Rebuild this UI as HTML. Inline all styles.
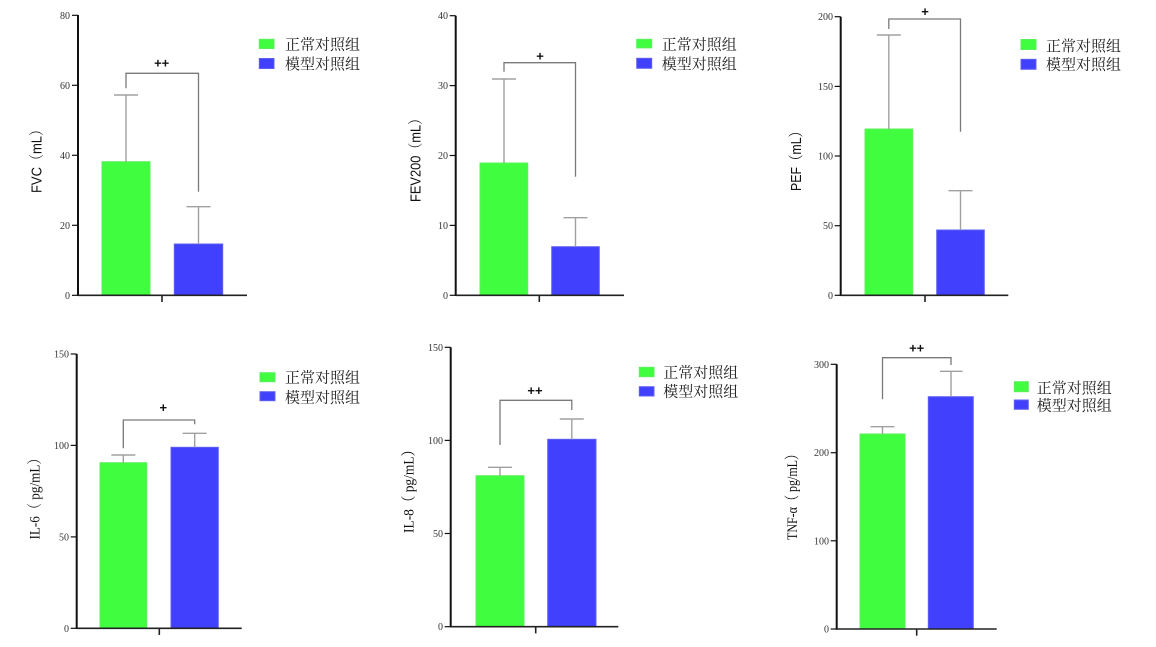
<!DOCTYPE html>
<html><head><meta charset="utf-8"><style>
html,body{margin:0;padding:0;background:#fff;}
svg{display:block;}
.tk{font-family:"Liberation Serif",serif;font-size:10px;fill:#333;}
.lg{font-family:"Liberation Serif","Noto Serif CJK SC",serif;font-size:15px;fill:#222;}
.sig{font-family:"Liberation Sans",sans-serif;font-size:13px;font-weight:bold;fill:#111;}
.yl{font-family:"Liberation Sans","Noto Serif CJK SC",sans-serif;font-size:15px;fill:#111;}
.yls{font-family:"Liberation Serif","Noto Serif CJK SC",serif;font-size:15px;fill:#111;}
.ax{stroke:#111;stroke-width:2;fill:none;}
.xa{stroke:#222;stroke-width:1.6;fill:none;}
.er{stroke:#a0a0a0;stroke-width:1.4;fill:none;}
.br{stroke:#7a7a7a;stroke-width:1.3;fill:none;}
.g{fill:#40fd40;stroke:#5cf05c;stroke-width:1;}
.b{fill:#4040fd;stroke:#6060f0;stroke-width:1;}
</style></head><body>
<svg width="1156" height="647" viewBox="0 0 1156 647" xmlns="http://www.w3.org/2000/svg">

<!-- ============ Panel 1: FVC ============ -->
<g>
<rect class="g" x="102" y="161.7" width="48" height="133.6"/>
<rect class="b" x="174.3" y="244" width="48.4" height="51.3"/>
<line class="er" x1="126" y1="161.7" x2="126" y2="95"/><line class="er" x1="114" y1="95" x2="138" y2="95"/>
<line class="er" x1="198.5" y1="244" x2="198.5" y2="206.7"/><line class="er" x1="186.5" y1="206.7" x2="210.5" y2="206.7"/>
<polyline class="br" points="126,88.3 126,73.3 198.5,73.3 198.5,191.7"/>
<text class="sig" x="161.7" y="67.5" text-anchor="middle">++</text>
<line class="ax" x1="78" y1="15" x2="78" y2="296"/>
<line class="xa" x1="78" y1="295.3" x2="247" y2="295.3"/>
<line class="xa" x1="162" y1="295.3" x2="162" y2="302"/>
<g class="tk" text-anchor="end">
<text x="70" y="298.8">0</text><text x="70" y="228.8">20</text><text x="70" y="158.8">40</text><text x="70" y="88.8">60</text><text x="70" y="18.8">80</text></g>
<g stroke="#111" stroke-width="1.2"><line x1="72" y1="295.3" x2="78" y2="295.3"/><line x1="72" y1="225.3" x2="78" y2="225.3"/><line x1="72" y1="155.3" x2="78" y2="155.3"/><line x1="72" y1="85.3" x2="78" y2="85.3"/><line x1="72" y1="15.3" x2="78" y2="15.3"/></g>
<text class="yl" transform="translate(41.7,158) rotate(-90)" text-anchor="middle" textLength="70" lengthAdjust="spacingAndGlyphs">FVC（mL）</text>
<rect class="g" x="259.3" y="39.3" width="14.7" height="9.2"/>
<rect class="b" x="259.3" y="58.5" width="14.7" height="10"/>
<text class="lg" x="285" y="49.5">正常对照组</text>
<text class="lg" x="285" y="68.8">模型对照组</text>
</g>

<!-- ============ Panel 2: FEV200 ============ -->
<g>
<rect class="g" x="480" y="163" width="47.7" height="132.3"/>
<rect class="b" x="551.7" y="246.7" width="47.6" height="48.6"/>
<line class="er" x1="504" y1="163" x2="504" y2="79"/><line class="er" x1="492" y1="79" x2="516" y2="79"/>
<line class="er" x1="575.5" y1="246.7" x2="575.5" y2="217.7"/><line class="er" x1="563.5" y1="217.7" x2="587.5" y2="217.7"/>
<polyline class="br" points="504,71.7 504,62.7 575.5,62.7 575.5,176.7"/>
<text class="sig" x="540" y="60.5" text-anchor="middle">+</text>
<line class="ax" x1="455.7" y1="15.7" x2="455.7" y2="296"/>
<line class="xa" x1="455.7" y1="295.3" x2="624" y2="295.3"/>
<line class="xa" x1="539.3" y1="295.3" x2="539.3" y2="302"/>
<g class="tk" text-anchor="end">
<text x="448" y="298.8">0</text><text x="448" y="228.9">10</text><text x="448" y="159">20</text><text x="448" y="89.1">30</text><text x="448" y="19.2">40</text></g>
<g stroke="#111" stroke-width="1.2"><line x1="449.7" y1="295.3" x2="455.7" y2="295.3"/><line x1="449.7" y1="225.4" x2="455.7" y2="225.4"/><line x1="449.7" y1="155.5" x2="455.7" y2="155.5"/><line x1="449.7" y1="85.6" x2="455.7" y2="85.6"/><line x1="449.7" y1="15.7" x2="455.7" y2="15.7"/></g>
<text class="yl" transform="translate(420.5,157) rotate(-90)" text-anchor="middle" textLength="90" lengthAdjust="spacingAndGlyphs">FEV200（mL）</text>
<rect class="g" x="636.7" y="39.3" width="15" height="8.6"/>
<rect class="b" x="636.7" y="58.3" width="15" height="10"/>
<text class="lg" x="661.7" y="49.5">正常对照组</text>
<text class="lg" x="661.7" y="68.8">模型对照组</text>
</g>

<!-- ============ Panel 3: PEF ============ -->
<g>
<rect class="g" x="865" y="129" width="47.7" height="166.3"/>
<rect class="b" x="936.7" y="230" width="47.6" height="65.3"/>
<line class="er" x1="888.8" y1="129" x2="888.8" y2="35"/><line class="er" x1="876.8" y1="35" x2="900.8" y2="35"/>
<line class="er" x1="960.5" y1="230" x2="960.5" y2="190.7"/><line class="er" x1="948.5" y1="190.7" x2="972.5" y2="190.7"/>
<polyline class="br" points="888.8,29 888.8,19 960.5,19 960.5,131.7"/>
<text class="sig" x="925" y="16" text-anchor="middle">+</text>
<line class="ax" x1="840.7" y1="16.7" x2="840.7" y2="296"/>
<line class="xa" x1="840.7" y1="295.3" x2="1008.3" y2="295.3"/>
<line class="xa" x1="925" y1="295.3" x2="925" y2="302"/>
<g class="tk" text-anchor="end">
<text x="833" y="298.8">0</text><text x="833" y="229.2">50</text><text x="833" y="159.5">100</text><text x="833" y="89.9">150</text><text x="833" y="20.2">200</text></g>
<g stroke="#111" stroke-width="1.2"><line x1="834.7" y1="295.3" x2="840.7" y2="295.3"/><line x1="834.7" y1="225.7" x2="840.7" y2="225.7"/><line x1="834.7" y1="156" x2="840.7" y2="156"/><line x1="834.7" y1="86.4" x2="840.7" y2="86.4"/><line x1="834.7" y1="16.7" x2="840.7" y2="16.7"/></g>
<text class="yl" transform="translate(801,158) rotate(-90)" text-anchor="middle" textLength="66" lengthAdjust="spacingAndGlyphs">PEF（mL）</text>
<rect class="g" x="1021" y="39.5" width="15" height="10"/>
<rect class="b" x="1021" y="59.3" width="15" height="10"/>
<text class="lg" x="1046" y="51">正常对照组</text>
<text class="lg" x="1046" y="69.5">模型对照组</text>
</g>

<!-- ============ Panel 4: IL-6 ============ -->
<g>
<rect class="g" x="100" y="462.7" width="46.7" height="165.6"/>
<rect class="b" x="171" y="447.3" width="47.3" height="181"/>
<line class="er" x1="123.3" y1="462.7" x2="123.3" y2="455"/><line class="er" x1="111.3" y1="455" x2="135.3" y2="455"/>
<line class="er" x1="194.7" y1="447.3" x2="194.7" y2="433.3"/><line class="er" x1="182.7" y1="433.3" x2="206.7" y2="433.3"/>
<polyline class="br" points="123.3,448.3 123.3,420 194.7,420 194.7,424.3"/>
<text class="sig" x="163.3" y="412" text-anchor="middle">+</text>
<line class="ax" x1="76.7" y1="354" x2="76.7" y2="629"/>
<line class="xa" x1="76.7" y1="628.3" x2="241.7" y2="628.3"/>
<line class="xa" x1="159.3" y1="628.3" x2="159.3" y2="635"/>
<g class="tk" text-anchor="end">
<text x="69" y="631.8">0</text><text x="69" y="540.4">50</text><text x="69" y="448.9">100</text><text x="69" y="357.5">150</text></g>
<g stroke="#111" stroke-width="1.2"><line x1="70.7" y1="628.3" x2="76.7" y2="628.3"/><line x1="70.7" y1="536.9" x2="76.7" y2="536.9"/><line x1="70.7" y1="445.4" x2="76.7" y2="445.4"/><line x1="70.7" y1="354" x2="76.7" y2="354"/></g>
<text class="yls" transform="translate(39.5,495.5) rotate(-90)" text-anchor="middle" textLength="88" lengthAdjust="spacingAndGlyphs">IL-6（ pg/mL）</text>
<rect class="g" x="260" y="372.7" width="15" height="9"/>
<rect class="b" x="260" y="391.7" width="15" height="9"/>
<text class="lg" x="285" y="382.3">正常对照组</text>
<text class="lg" x="285" y="402.3">模型对照组</text>
</g>

<!-- ============ Panel 5: IL-8 ============ -->
<g>
<rect class="g" x="476" y="475.7" width="48" height="151"/>
<rect class="b" x="547.7" y="439.3" width="48.3" height="187.4"/>
<line class="er" x1="500" y1="475.7" x2="500" y2="467.3"/><line class="er" x1="488" y1="467.3" x2="512" y2="467.3"/>
<line class="er" x1="571.8" y1="439.3" x2="571.8" y2="419"/><line class="er" x1="559.8" y1="419" x2="583.8" y2="419"/>
<polyline class="br" points="500,445 500,400.3 571.8,400.3 571.8,410"/>
<text class="sig" x="535" y="395" text-anchor="middle">++</text>
<line class="ax" x1="450.7" y1="347.3" x2="450.7" y2="627.4"/>
<line class="xa" x1="450.7" y1="626.7" x2="618.3" y2="626.7"/>
<line class="xa" x1="535.7" y1="626.7" x2="535.7" y2="633.4"/>
<g class="tk" text-anchor="end">
<text x="443" y="630.2">0</text><text x="443" y="537">50</text><text x="443" y="443.9">100</text><text x="443" y="350.8">150</text></g>
<g stroke="#111" stroke-width="1.2"><line x1="444.7" y1="626.7" x2="450.7" y2="626.7"/><line x1="444.7" y1="533.5" x2="450.7" y2="533.5"/><line x1="444.7" y1="440.4" x2="450.7" y2="440.4"/><line x1="444.7" y1="347.3" x2="450.7" y2="347.3"/></g>
<text class="yls" transform="translate(413.5,488) rotate(-90)" text-anchor="middle" textLength="90" lengthAdjust="spacingAndGlyphs">IL-8（ pg/mL）</text>
<rect class="g" x="639.3" y="367.3" width="14.7" height="9.4"/>
<rect class="b" x="639.3" y="386.7" width="14.7" height="9.3"/>
<text class="lg" x="663.3" y="377.3">正常对照组</text>
<text class="lg" x="663.3" y="396.3">模型对照组</text>
</g>

<!-- ============ Panel 6: TNF-α ============ -->
<g>
<rect class="g" x="860" y="434" width="45" height="195"/>
<rect class="b" x="928.3" y="396.7" width="45" height="232.3"/>
<line class="er" x1="882.5" y1="434" x2="882.5" y2="426.7"/><line class="er" x1="870.5" y1="426.7" x2="894.5" y2="426.7"/>
<line class="er" x1="951" y1="396.7" x2="951" y2="371.3"/><line class="er" x1="940" y1="371.3" x2="962.5" y2="371.3"/>
<polyline class="br" points="882.5,399.3 882.5,357.7 951,357.7 951,365"/>
<text class="sig" x="916.7" y="352.7" text-anchor="middle">++</text>
<line class="ax" x1="836.7" y1="364.3" x2="836.7" y2="629.7"/>
<line class="xa" x1="836.7" y1="629" x2="996.7" y2="629"/>
<line class="xa" x1="916.7" y1="629" x2="916.7" y2="635.7"/>
<g class="tk" text-anchor="end">
<text x="829" y="632.5">0</text><text x="829" y="544.3">100</text><text x="829" y="456.2">200</text><text x="829" y="367.8">300</text></g>
<g stroke="#111" stroke-width="1.2"><line x1="830.7" y1="629" x2="836.7" y2="629"/><line x1="830.7" y1="540.8" x2="836.7" y2="540.8"/><line x1="830.7" y1="452.7" x2="836.7" y2="452.7"/><line x1="830.7" y1="364.3" x2="836.7" y2="364.3"/></g>
<text class="yls" transform="translate(797,494) rotate(-90)" text-anchor="middle" textLength="92" lengthAdjust="spacingAndGlyphs">TNF-α（ pg/mL）</text>
<rect class="g" x="1014.3" y="381.7" width="14" height="10"/>
<rect class="b" x="1014.3" y="400" width="14" height="9.3"/>
<text class="lg" x="1036.7" y="392.8">正常对照组</text>
<text class="lg" x="1036.7" y="410.5">模型对照组</text>
</g>

</svg>
</body></html>
